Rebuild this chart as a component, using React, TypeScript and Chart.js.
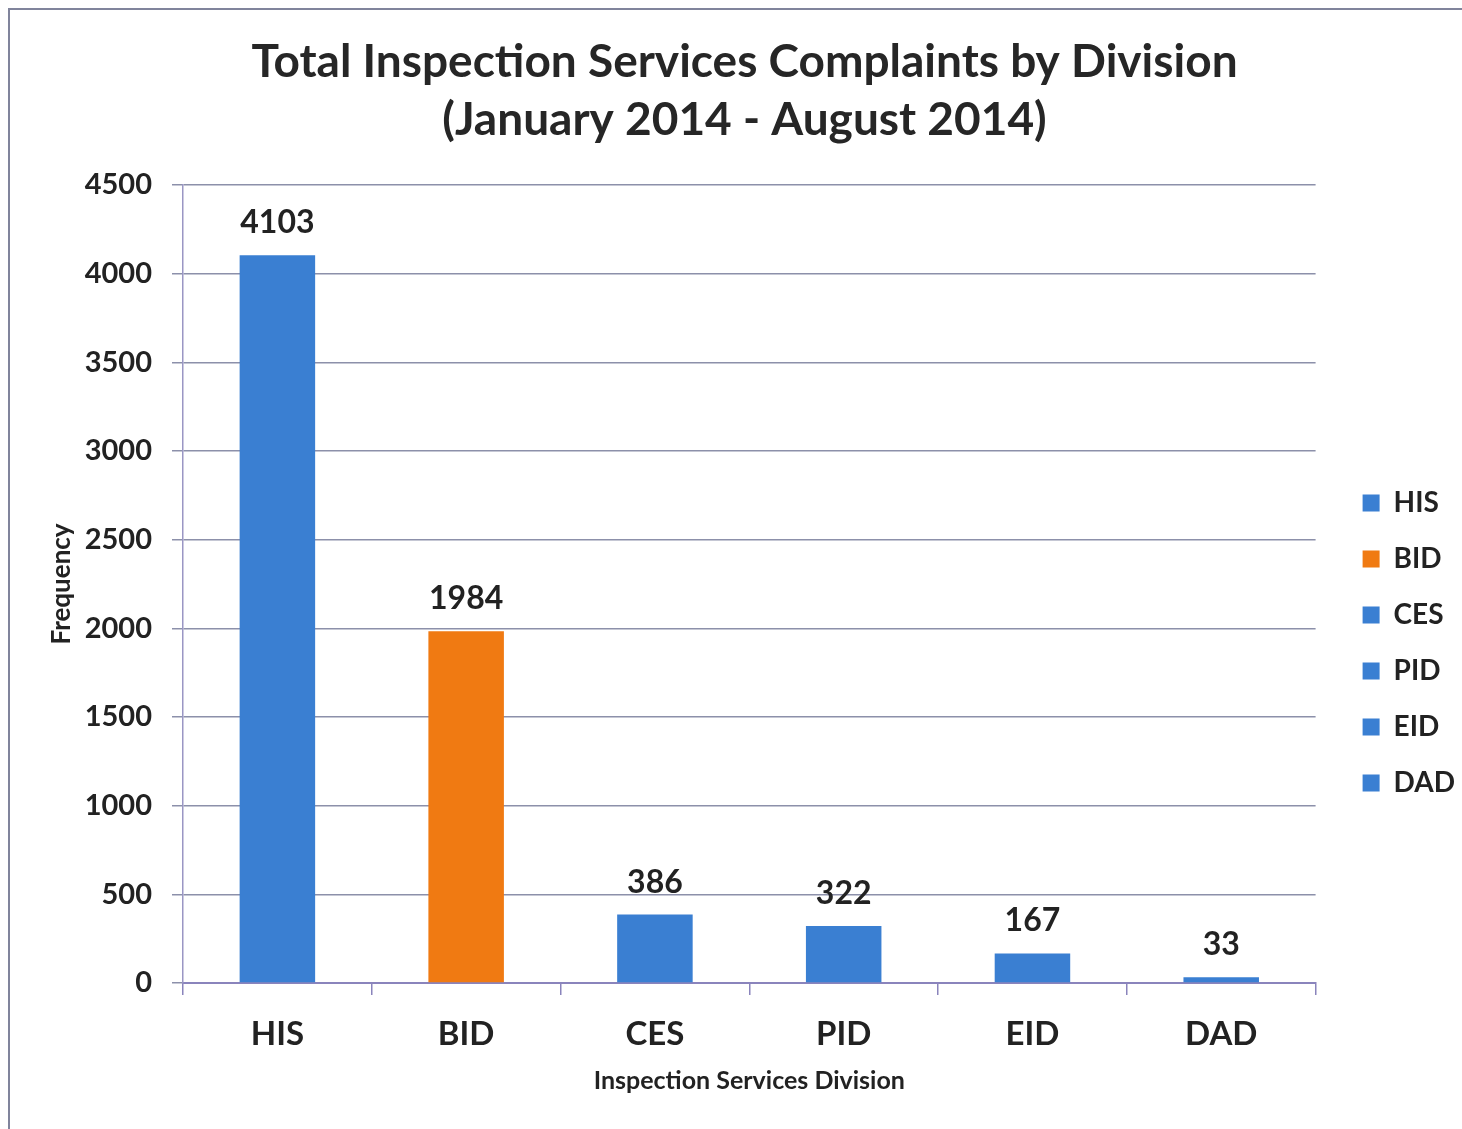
import React, { useEffect, useRef } from "react";
import { Chart, registerables } from "chart.js";

Chart.register(...registerables);

const categories = ["HIS", "BID", "CES", "PID", "EID", "DAD"];
const complaints = [4103, 1984, 386, 322, 167, 33];
const barColors = ["#3a7fd2", "#f07a12", "#3a7fd2", "#3a7fd2", "#3a7fd2", "#3a7fd2"];
const titleLines = ["Total Inspection Services Complaints by Division", "(January 2014 - August 2014)"];
const yTitle = "Frequency";
const xTitle = "Inspection Services Division";

const FONT = "Lato, 'Open Sans', sans-serif";
const TEXT = "#222222";

const valueLabels = {
  id: "valueLabels",
  afterDatasetsDraw(chart: any) {
    const ctx = chart.ctx;
    const meta = chart.getDatasetMeta(0);
    ctx.save();
    ctx.font = `bold 32px ${FONT}`;
    ctx.fillStyle = TEXT;
    ctx.textAlign = "center";
    ctx.textBaseline = "alphabetic";
    meta.data.forEach((el: any, i: number) => {
      ctx.fillText(String(chart.data.datasets[0].data[i]), el.x, el.y - 22);
    });
    ctx.restore();
  },
};

export default function App() {
  const ref = useRef<HTMLCanvasElement>(null);
  useEffect(() => {
    if (!ref.current) return;
    const chart = new Chart(ref.current, {
      type: "bar",
      data: {
        labels: categories,
        datasets: [
          {
            data: complaints,
            backgroundColor: barColors,
            borderWidth: 0,
            barPercentage: 0.4,
            categoryPercentage: 1,
          },
        ],
      },
      options: {
        animation: false,
        responsive: false,
        maintainAspectRatio: false,
        layout: { padding: { left: 24, right: -3, top: 0, bottom: 0 } },
        plugins: {
          title: {
            display: true,
            text: titleLines,
            color: "#262626",
            font: { family: FONT, size: 46, weight: "bold", lineHeight: 1.26 },
            padding: { top: 33, bottom: 36 },
          },
          legend: {
            display: true,
            position: "right",
            title: {
              display: true,
              text: " ",
              font: { family: FONT, size: 10, lineHeight: 1.2 },
              padding: { top: 0, bottom: 145 },
            },
            labels: {
              color: TEXT,
              font: { family: FONT, size: 28, weight: "bold" },
              boxWidth: 17,
              boxHeight: 17,
              padding: 28,
              generateLabels: () =>
                categories.map((c, i) => ({
                  text: c,
                  fillStyle: barColors[i],
                  strokeStyle: barColors[i],
                  lineWidth: 0,
                  hidden: false,
                  index: i,
                  datasetIndex: 0,
                  fontColor: TEXT,
                })),
            },
            onClick: () => {},
          },
          tooltip: { enabled: false },
        },
        scales: {
          x: {
            afterFit: (s: any) => {
              s.height = 146;
            },
            grid: {
              display: true,
              drawOnChartArea: false,
              drawTicks: true,
              tickLength: 12,
              color: "#8a84bc",
              lineWidth: 1.5,
            },
            border: { display: true, color: "#8a84bc", width: 2 },
            ticks: {
              color: TEXT,
              font: { family: FONT, size: 33, weight: "bold" },
              padding: 20,
            },
            title: {
              display: true,
              text: xTitle,
              color: TEXT,
              font: { family: FONT, size: 25, weight: "bold" },
              padding: { top: 0, bottom: 33 },
            },
          },
          y: {
            min: 0,
            max: 4500,
            afterFit: (s: any) => {
              s.width = 159;
            },
            ticks: {
              stepSize: 500,
              color: TEXT,
              font: { family: FONT, size: 29, weight: "bold" },
              padding: 20,
              callback: (v: any) => String(v),
            },
            grid: {
              color: "#8c90aa",
              lineWidth: 1.5,
              tickLength: 11,
            },
            border: { display: true, color: "#9a96c4", width: 1.5 },
            title: {
              display: true,
              text: yTitle,
              color: TEXT,
              font: { family: FONT, size: 26, weight: "bold" },
              padding: { top: 22, bottom: 0 },
            },
          },
          gap: {
            type: "linear",
            position: "right",
            display: true,
            afterFit: (s: any) => {
              s.width = 19;
            },
            grid: { display: false, drawTicks: false },
            border: { display: false },
            ticks: { display: false },
            title: { display: false },
          },
        },
      },
      plugins: [valueLabels],
    } as any);
    return () => chart.destroy();
  }, []);

  return (
    <div
      style={{
        position: "fixed",
        left: 0,
        top: 0,
        width: 1462,
        height: 1129,
        overflow: "hidden",
        background: "#ffffff",
      }}
    >
      <canvas ref={ref} width={1462} height={1129} style={{ position: "absolute", left: 0, top: 0 }} />
      <div style={{ position: "absolute", left: 8, top: 8, width: 2, height: 1121, background: "#80849c" }} />
      <div style={{ position: "absolute", left: 8, top: 8, width: 1454, height: 2, background: "#80849c" }} />
    </div>
  );
}
